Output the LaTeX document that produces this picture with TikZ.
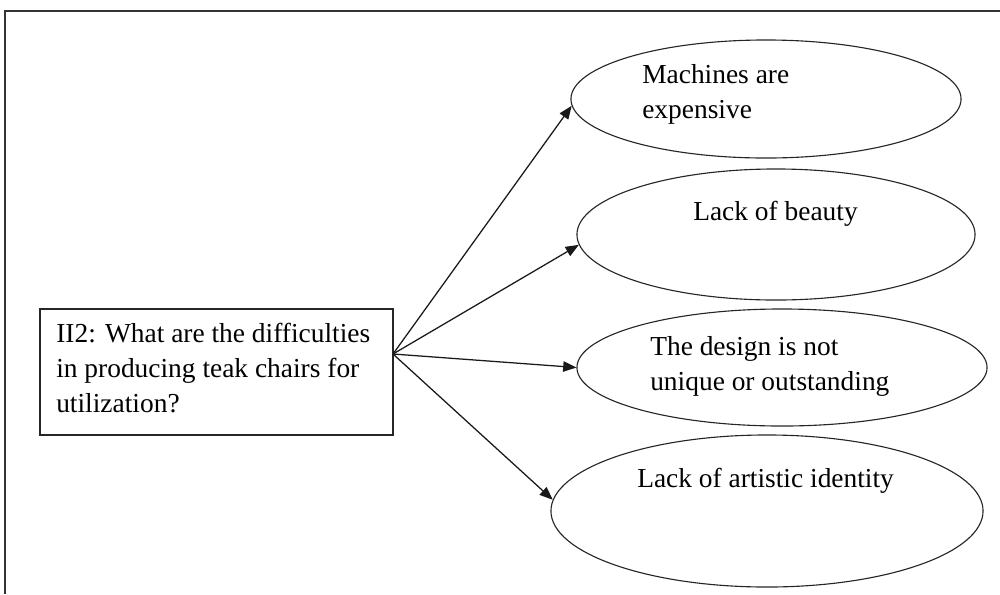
\documentclass[tikz,border=0pt]{standalone}
\usepackage{fontspec}
\setmainfont{Liberation Serif}
\usetikzlibrary{shapes.geometric,arrows.meta}
\begin{document}
\begin{tikzpicture}[x=0.025cm,y=-0.025cm,
  borderline/.style={draw=black!80,line width=0.9pt},
  oval/.style={ellipse,draw=black!85,line width=0.8pt,inner sep=0pt},
  qbox/.style={rectangle,draw=black!85,line width=0.9pt,inner sep=0pt},
  txt/.style={anchor=base west,inner sep=0pt,align=left,font=\fontsize{19.5}{24.6}\selectfont},
  arrowline/.style={draw=black!90,line width=0.9pt,-{Triangle[length=0.33cm,width=0.26cm]}}]
\useasboundingbox (0,0) rectangle (1000,594);
% page frame: top and left edges
\coordinate (tl) at (5,11);
\coordinate (tr) at (1000,11);
\coordinate (bl) at (5,594);
\draw[borderline] (tr) -- (tl) -- (bl);

% question box (text node anchored at the baseline of its last line)
\node[qbox,minimum width=8.825cm,minimum height=3.15cm] (q) at (216.5,372) {};
\node[txt] (qt) at (56,412) {II2: What are the difficulties\\in producing teak chairs for\\utilization?};

% answer ovals
\node[oval,minimum width=9.75cm,minimum height=2.95cm] (e1) at (766,99) {};
\node[oval,minimum width=9.95cm,minimum height=3.275cm] (e2) at (776,234.5) {};
\node[oval,minimum width=10.25cm,minimum height=2.925cm] (e3) at (782,367.5) {};
\node[oval,minimum width=10.8cm,minimum height=3.8cm] (e4) at (767,511) {};

\node[txt] (t1) at (642,118) {Machines are\\expensive};
\node[txt] (t2) at (693,220) {Lack of beauty};
\node[txt] (t3) at (650,390) {The design is not\\unique or outstanding};
\node[txt] (t4) at (637,487) {Lack of artistic identity};

% arrows from the question to each answer
\coordinate (src) at (393,354);
\draw[arrowline] (src) -- (e1.182);
\draw[arrowline] (src) -- (e2.183);
\draw[arrowline] (src) -- (e3.west);
\draw[arrowline] (src) -- (e4.177);
\end{tikzpicture}
\end{document}
